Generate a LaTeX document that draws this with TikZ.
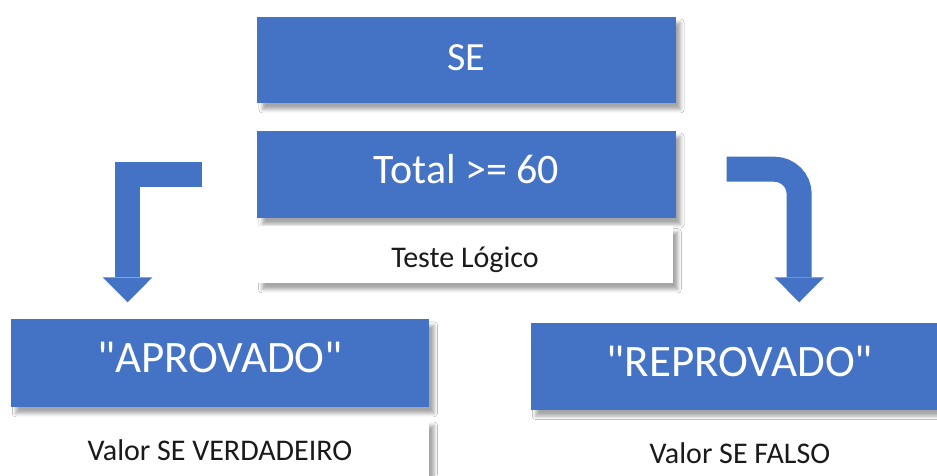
\documentclass[tikz,border=0pt]{standalone}
\usepackage{fontspec}
\setmainfont{Carlito}[Ligatures=TeXOff]
\usetikzlibrary{arrows.meta,shadows.blur}
\definecolor{officeblue}{HTML}{4472C4}
\definecolor{darktext}{HTML}{1A1A1A}
\tikzset{
  boxshadow/.style={blur shadow={shadow xshift=5pt, shadow yshift=-6pt, shadow blur radius=3.5pt, shadow opacity=35}},
  bluebox/.style={fill=officeblue, draw=none, inner sep=0pt, text=white,
    font=\fontsize{40}{44}\selectfont, boxshadow},
  whitebox/.style={fill=white, draw=none, inner sep=0pt, text=darktext,
    font=\fontsize{30}{34}\selectfont, boxshadow},
  base/.style={text height=#1, text depth=0pt},
  blockarrow/.style={draw=officeblue, line width=25pt, line cap=butt,
    -{Triangle[width=49.6pt,length=25pt,line width=0pt]}},
}
\begin{document}
\begin{tikzpicture}[x=1pt,y=-1pt]
\useasboundingbox (0,0) rectangle (937,475);
\clip (0,0) rectangle (937,475);
\fill[white] (0,0) rectangle (937,475);

\node[bluebox, base=20pt, minimum width=418.4pt, minimum height=86.6pt] (se) at (466.5,60) {SE};
\node[bluebox, base=17.6pt, minimum width=418.4pt, minimum height=87.6pt, font=\fontsize{42}{46}\selectfont] (total) at (466.5,174.5) {Total >= 60};
\node[whitebox, base=25.2pt, minimum width=415.7pt, minimum height=57.3pt] (teste) at (465,254.7) {Teste Lógico};

\node[bluebox, base=18.8pt, minimum width=418.3pt, minimum height=88pt, font=\fontsize{45}{48}\selectfont] (aprov) at (219.9,363.3) {"APROVADO"};
\node[whitebox, base=24.8pt, minimum width=418.3pt, minimum height=57.3pt] (vverd) at (219.9,448.3) {Valor SE VERDADEIRO};

\node[bluebox, base=19.2pt, minimum width=418.3pt, minimum height=87.3pt, font=\fontsize{45}{48}\selectfont] (reprov) at (739.9,366.4) {"REPROVADO"};
\node[whitebox, base=29.2pt, minimum width=418.3pt, minimum height=57.3pt] (vfalso) at (739.9,448.7) {Valor SE FALSO};

\coordinate (lstart) at (202.3,174.2);
\coordinate (ltip) at (127.6,302.3);
\coordinate (rstart) at (726.7,169.2);
\coordinate (rtip) at (799.2,302.3);

\draw[blockarrow, line join=miter] (lstart) -| (ltip);
\draw[blockarrow, rounded corners=25pt] (rstart) -| (rtip);
\end{tikzpicture}
\end{document}
